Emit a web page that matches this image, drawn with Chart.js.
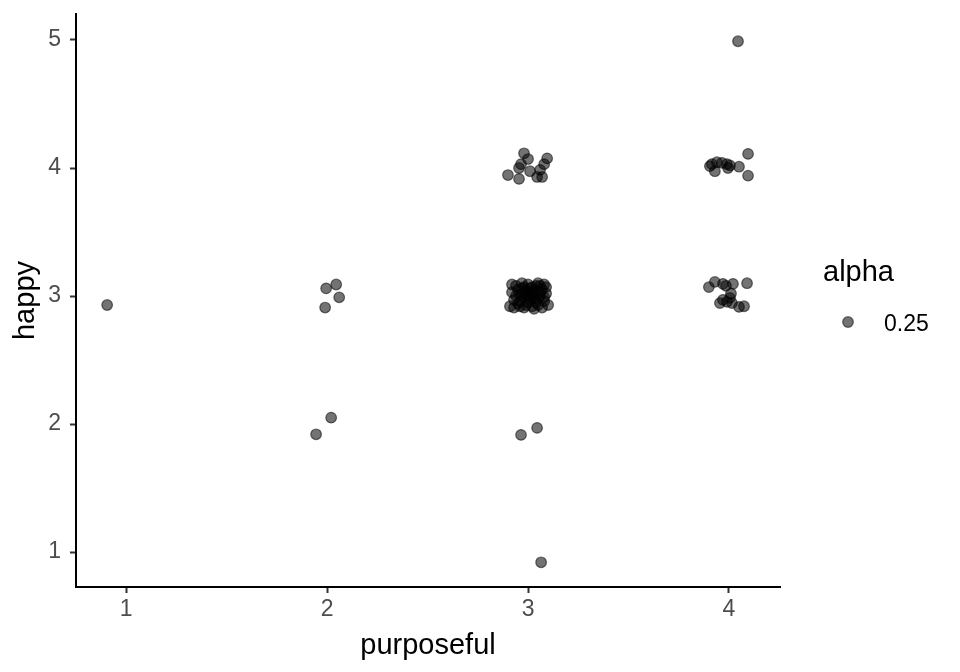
<!DOCTYPE html>
<html>
<head>
<meta charset="utf-8">
<script src="https://cdn.jsdelivr.net/npm/chart.js@4.4.1/dist/chart.umd.min.js"></script>
<style>
  html, body { margin: 0; padding: 0; background: #fff; }
</style>
</head>
<body>
<canvas id="chart-jitter" width="960" height="672"></canvas>
<script>
// ---- data (jittered points as [purposeful, happy]) ----
const xTicks = [1, 2, 3, 4];
const yTicks = [1, 2, 3, 4, 5];
const legendTitle = 'alpha';
const legendLabel = '0.25';

const ptsP1 = [[0.905, 2.93]];
const ptsP2 = [
  [1.995, 3.06], [2.045, 3.09], [2.06, 2.99], [1.99, 2.91],
  [2.02, 2.05], [1.945, 1.92]
];
const ptsP3Low = [[2.965, 1.915], [3.045, 1.97], [3.065, 0.92]];
const ptsP3Four = [
  [2.98, 4.115], [3.0, 4.07], [2.965, 4.03], [2.955, 4.0], [2.9, 3.945],
  [2.955, 3.915], [3.01, 3.975], [3.095, 4.075], [3.08, 4.03], [3.06, 3.985],
  [3.07, 3.93], [3.045, 3.93]
];
const ptsP3Three = [
  [2.91, 2.92], [2.93, 2.97], [2.92, 3.03], [2.94, 3.08], [2.95, 2.94],
  [2.96, 3.01], [2.97, 3.06], [2.98, 2.91], [2.98, 2.99], [2.99, 3.04],
  [3.00, 3.09], [3.00, 2.95], [3.01, 3.02], [3.02, 2.92], [3.02, 3.07],
  [3.03, 2.98], [3.04, 3.04], [3.05, 3.10], [3.05, 2.93], [3.06, 3.00],
  [3.07, 3.05], [3.08, 2.96], [3.08, 3.09], [3.09, 3.02], [3.10, 2.93],
  [2.94, 3.00], [2.96, 2.96], [2.97, 3.10], [2.99, 2.93], [3.01, 3.06],
  [3.03, 3.01], [3.04, 2.95], [3.06, 3.08], [3.07, 2.91], [2.95, 3.05],
  [2.93, 2.91], [3.00, 3.00], [3.02, 3.03], [2.98, 3.07], [3.05, 2.98],
  [3.09, 3.07], [2.92, 3.09], [3.03, 2.90], [2.97, 3.02], [3.01, 2.97],
  [3.06, 3.03], [3.08, 2.99], [2.96, 2.92], [3.04, 3.08], [2.99, 3.01]
];
const ptsP4Five = [[4.045, 4.99]];
const ptsP4Four = [
  [3.915, 4.03], [3.94, 4.045], [3.93, 3.975], [3.99, 4.03], [3.995, 4.0],
  [4.05, 4.01], [4.095, 4.11], [4.095, 3.94], [3.905, 4.015], [3.965, 4.04],
  [4.005, 4.02]
];
const ptsP4Three = [
  [3.9, 3.07], [3.93, 3.11], [3.97, 3.095], [3.985, 3.08], [4.02, 3.095],
  [4.01, 3.02], [4.005, 2.985], [3.955, 2.945], [3.99, 2.955], [4.015, 2.945],
  [4.05, 2.915], [4.075, 2.92], [4.09, 3.1], [3.97, 2.97]
];

const allPts = [].concat(ptsP1, ptsP2, ptsP3Low, ptsP3Four, ptsP3Three, ptsP4Five, ptsP4Four, ptsP4Three);

const FONT = '"Liberation Sans", Arial, Helvetica, sans-serif';
const POINT_FILL = 'rgba(0,0,0,0.55)';
const POINT_EDGE = 'rgba(0,0,0,0.55)';

// ggplot-style legend on the right
const legendPlugin = {
  id: 'alphaLegend',
  afterDraw(chart) {
    const ctx = chart.ctx;
    ctx.save();
    ctx.fillStyle = '#000';
    ctx.textBaseline = 'alphabetic';
    ctx.textAlign = 'left';
    ctx.font = `29px ${FONT}`;
    ctx.fillText(legendTitle, 823, 281);
    ctx.beginPath();
    ctx.arc(848, 322, 5.3, 0, Math.PI * 2);
    ctx.fillStyle = POINT_FILL;
    ctx.fill();
    ctx.lineWidth = 1.2;
    ctx.strokeStyle = POINT_EDGE;
    ctx.stroke();
    ctx.fillStyle = '#000';
    ctx.font = `23px ${FONT}`;
    ctx.fillText(legendLabel, 884, 331);
    ctx.restore();
  }
};

function axisBase(ticks) {
  return {
    type: 'linear',
    afterBuildTicks: s => { s.ticks = ticks.map(v => ({ value: v })); },
    grid: { display: true, drawOnChartArea: false, drawTicks: true, tickLength: 6, tickWidth: 2, tickColor: '#333' },
    border: { display: true, color: '#000', width: 2 },
  };
}

new Chart(document.getElementById('chart-jitter'), {
  type: 'scatter',
  data: {
    datasets: [{
      data: allPts.map(([x, y]) => ({ x, y })),
      backgroundColor: POINT_FILL,
      borderColor: POINT_EDGE,
      borderWidth: 1.2,
      pointRadius: 5.3,
      pointHoverRadius: 5.3
    }]
  },
  options: {
    responsive: false,
    devicePixelRatio: 1,
    animation: false,
    layout: { padding: { top: 14, right: 180, left: 0, bottom: 0 } },
    plugins: { legend: { display: false }, tooltip: { enabled: false } },
    scales: {
      x: Object.assign(axisBase(xTicks), {
        min: 0.75, max: 4.254,
        afterFit: s => { s.height = 85; s.paddingLeft = 0; s.paddingRight = 0; },
        ticks: { color: '#4d4d4d', font: { family: FONT, size: 23 }, padding: 3, maxRotation: 0 },
        title: { display: true, text: 'purposeful', color: '#000', font: { family: FONT, size: 29 }, padding: { top: 0, bottom: 9 } }
      }),
      y: Object.assign(axisBase(yTicks), {
        min: 0.727, max: 5.203,
        afterFit: s => { s.width = 76; s.paddingTop = 0; s.paddingBottom = 0; },
        ticks: { color: '#4d4d4d', font: { family: FONT, size: 23 }, padding: 9 },
        title: { display: true, text: 'happy', color: '#000', font: { family: FONT, size: 29 }, padding: { top: 9, bottom: 0 } }
      })
    }
  },
  plugins: [legendPlugin]
});
</script>
</body>
</html>
